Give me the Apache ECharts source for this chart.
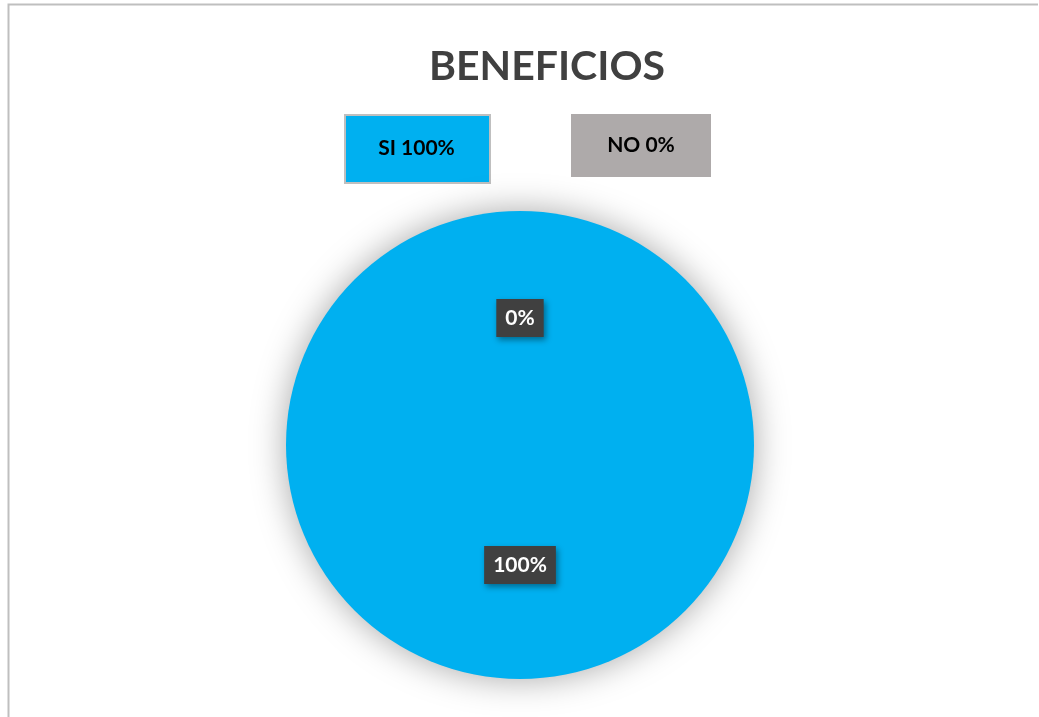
<!DOCTYPE html>
<html>
<head>
<meta charset="utf-8">
<script src="https://cdn.jsdelivr.net/npm/echarts@6/dist/echarts.min.js"></script>
<style>
  html, body { margin: 0; padding: 0; background: #fff; }
  #chart { width: 1039px; height: 717px; }
</style>
</head>
<body>
<div id="chart"></div>
<script>
// datos del gráfico
const titleText = 'BENEFICIOS'
const categories = ['SI', 'NO']
const values = [100, 0]
const sliceColors = ['#00B0F0', '#AEAAAA']

const total = values.reduce((a, b) => a + b, 0)
const pct = values.map(v => Math.round(v / total * 100))

const chart = echarts.init(document.getElementById('chart'))

// cajas de leyenda (como en Excel)
const legendBoxes = [
  { left: 344, top: 114, width: 145, height: 68, border: '#BFBFBF' },
  { left: 571, top: 114, width: 140, height: 63, border: null }
]

const graphic = [
  {
    type: 'polyline',
    shape: { points: [[8.5, 717], [8.5, 4.5], [1038, 4.5]] },
    style: { stroke: '#BFBFBF', lineWidth: 2, fill: null }
  }
]
categories.forEach((name, i) => {
  const b = legendBoxes[i]
  graphic.push({
    type: 'rect',
    left: b.left,
    top: b.top,
    shape: { width: b.width, height: b.height },
    style: { fill: sliceColors[i], stroke: b.border, lineWidth: b.border ? 2 : 0 }
  })
  graphic.push({
    type: 'text',
    x: b.left + b.width / 2,
    y: b.top + b.height / 2,
    style: {
      text: name + ' ' + pct[i] + '%',
      fill: '#000',
      font: 'bold 21px Lato',
      align: 'center',
      verticalAlign: 'middle'
    }
  })
})

const option = {
  backgroundColor: '#fff',
  title: {
    text: titleText,
    left: 542,
    top: 41,
    textAlign: 'center',
    textStyle: { fontFamily: 'Lato', fontWeight: 'bold', fontSize: 41, color: '#404040' }
  },
  graphic: graphic,
  series: [
    {
      type: 'pie',
      center: [520, 445],
      radius: [0, 234],
      startAngle: 90,
      clockwise: true,
      silent: true,
      itemStyle: {
        shadowBlur: 35,
        shadowColor: 'rgba(0,0,0,0.35)',
        borderWidth: 0
      },
      label: {
        show: true,
        position: 'inside',
        formatter: p => Math.round(p.percent) + '%',
        color: '#fff',
        fontFamily: 'Lato',
        fontWeight: 'bold',
        fontSize: 21,
        backgroundColor: '#404040',
        padding: [9, 9, 8, 9],
        shadowBlur: 6,
        shadowColor: 'rgba(0,0,0,0.4)',
        shadowOffsetX: 2,
        shadowOffsetY: 3
      },
      labelLine: { show: false },
      data: categories.map((name, i) => ({
        name: name,
        value: values[i],
        itemStyle: { color: sliceColors[i] },
        label: i === 1 ? { offset: [0, -7] } : {}
      }))
    }
  ]
}

chart.setOption(option)
</script>
</body>
</html>
